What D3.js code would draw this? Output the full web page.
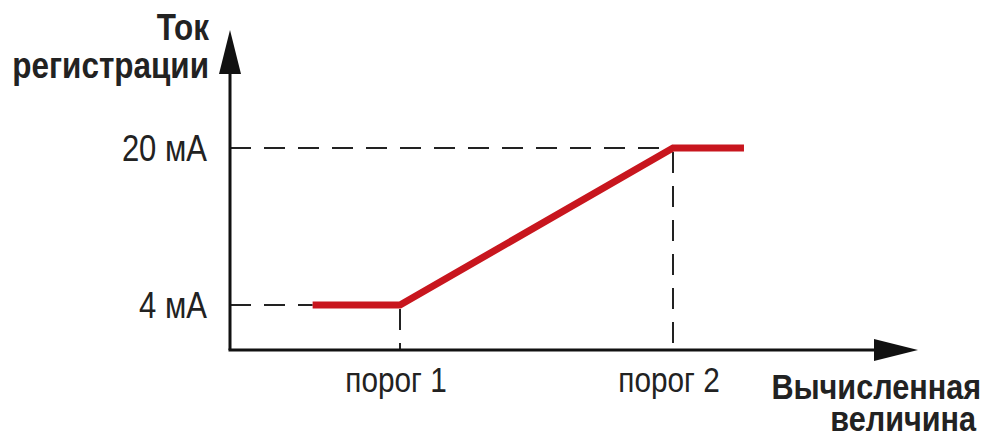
<!DOCTYPE html>
<html>
<head>
<meta charset="utf-8">
<script src="https://cdn.jsdelivr.net/npm/d3@7"></script>
<style>
  html, body { margin: 0; padding: 0; background: #fff; }
  svg text { font-family: "Liberation Sans", Arial, sans-serif; fill: #222; }
</style>
</head>
<body>
<svg id="chart" width="982" height="439"></svg>
<script>
// thresholds on the computed-value axis
var thresholds = [1, 2];
var thresholdLabels = ["порог 1", "порог 2"];
// current levels on the vertical axis
var currentTicks = [4, 20];
var currentLabels = ["4 мА", "20 мА"];
// response curve
var responseX = [0.68, 1, 2, 2.26];
var responseY = [4, 4, 20, 20];

var svg = d3.select("#chart");

var origin = [230, 350],
  axisEnd = [918, 30],
  squeeze = 0.85;   // condensed look of the original lettering

var x = d3.scaleLinear().domain([1, 2]).range([400, 673]);
var y = d3.scaleLinear().domain([4, 20]).range([305, 148]);

var dash = "21,13";

function place(px, py){
  return "translate(" + px + "," + py + ") scale(" + squeeze + ",1)";
}

// dashed guides to the current levels
svg.selectAll(".hguide").data(currentTicks.map(function(d, i){ return {v: d, x2: i === 0 ? x(responseX[0]) : x(thresholds[1])}; }))
  .enter().append("line")
  .attr("class", "hguide")
  .attr("x1", origin[0]).attr("x2", function(d){ return d.x2; })
  .attr("y1", function(d){ return y(d.v); }).attr("y2", function(d){ return y(d.v); })
  .attr("stroke", "#222").attr("stroke-width", 2).attr("stroke-dasharray", dash);

// dashed drops to the thresholds
svg.selectAll(".vguide").data(thresholds.map(function(d, i){ return {v: d, c: currentTicks[i]}; }))
  .enter().append("line")
  .attr("class", "vguide")
  .attr("x1", function(d){ return x(d.v); }).attr("x2", function(d){ return x(d.v); })
  .attr("y1", function(d){ return y(d.c); }).attr("y2", origin[1])
  .attr("stroke", "#222").attr("stroke-width", 2).attr("stroke-dasharray", dash)
  .attr("stroke-dashoffset", -4);

// axes
svg.append("line")
  .attr("x1", origin[0]).attr("y1", origin[1])
  .attr("x2", origin[0]).attr("y2", axisEnd[1] + 30)
  .attr("stroke", "#111").attr("stroke-width", 3);
svg.append("line")
  .attr("x1", origin[0] - 1.5).attr("y1", origin[1])
  .attr("x2", axisEnd[0] - 30).attr("y2", origin[1])
  .attr("stroke", "#111").attr("stroke-width", 3);

// arrow heads
svg.append("path")
  .attr("d", "M" + origin[0] + "," + axisEnd[1] + " L" + (origin[0] + 11) + "," + (axisEnd[1] + 44) +
             " L" + (origin[0] - 11) + "," + (axisEnd[1] + 44) + "Z")
  .attr("fill", "#111");
svg.append("path")
  .attr("d", "M" + axisEnd[0] + "," + origin[1] + " L" + (axisEnd[0] - 44) + "," + (origin[1] - 11) +
             " L" + (axisEnd[0] - 44) + "," + (origin[1] + 11) + "Z")
  .attr("fill", "#111");

// response line
var line = d3.line()
  .x(function(d){ return x(d[0]); })
  .y(function(d){ return y(d[1]); });

svg.append("path")
  .datum(d3.zip(responseX, responseY))
  .attr("d", line)
  .attr("fill", "none")
  .attr("stroke", "#c8161e")
  .attr("stroke-width", 7);

// tick labels
svg.selectAll(".ylab").data(currentTicks)
  .enter().append("text")
  .attr("class", "ylab")
  .attr("transform", function(d){ return place(207, y(d) + 12.5); })
  .attr("text-anchor", "end")
  .attr("font-size", 36.5)
  .text(function(d, i){ return currentLabels[i]; });

svg.selectAll(".xlab").data(thresholds)
  .enter().append("text")
  .attr("class", "xlab")
  .attr("transform", function(d){ return place(x(d) - 4, 392); })
  .attr("text-anchor", "middle")
  .attr("font-size", 35)
  .text(function(d, i){ return thresholdLabels[i]; });

// axis titles
function title(lines, size){
  lines.forEach(function(l){
    svg.append("text")
      .attr("transform", place(l[1], l[2]))
      .attr("text-anchor", "end")
      .attr("font-size", size)
      .attr("font-weight", "bold")
      .text(l[0]);
  });
}
title([["Ток", 209, 40], ["регистрации", 209, 78]], 37);
title([["Вычисленная", 981, 399], ["величина", 976, 431]], 36);
</script>
</body>
</html>
